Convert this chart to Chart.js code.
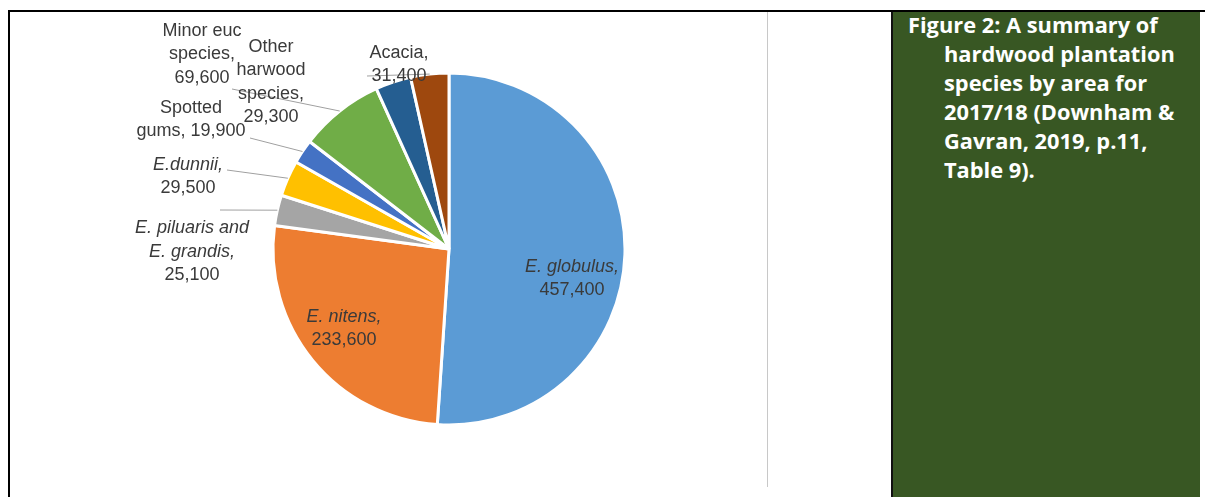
<!DOCTYPE html>
<html lang="en">
<head>
  <meta charset="UTF-8">
  <title>Hardwood plantation species by area 2017/18</title>
  <script src="https://cdn.jsdelivr.net/npm/chart.js"></script>
  <style>
    body {
      margin: 0;
      width: 1205px;
      height: 497px;
      background: #fff;
      position: relative;
      overflow: hidden;
      font-family: 'Liberation Sans', Arial, sans-serif;
    }
    .rule-top {
      position: absolute; left: 8px; top: 10px; width: 1197px; height: 2px; background: #000;
    }
    .rule-left {
      position: absolute; left: 8px; top: 10px; width: 2px; height: 487px; background: #000;
    }
    .chart-edge {
      position: absolute; left: 767px; top: 12px; width: 1px; height: 475px; background: #c8c8c8;
    }
    #chart-box {
      position: absolute; left: 10px; top: 12px; width: 878px; height: 474px;
    }
    .caption {
      position: absolute; left: 891px; top: 12px; width: 309px; height: 485px;
      background: #385723;
      border-left: 2px solid #111;
      box-sizing: border-box;
    }
    .caption p {
      position: absolute; left: 0; top: -2px; margin: 0;
      padding-left: 51px;
      text-indent: -36px;
      color: #fff;
      font-family: 'Open Sans', sans-serif;
      font-weight: 700;
      font-size: 21.8px;
      line-height: 29.1px;
      white-space: nowrap;
    }
  </style>
</head>
<body>
  <div class="rule-top"></div>
  <div class="rule-left"></div>
  <div class="chart-edge"></div>
  <div id="chart-box"><canvas id="speciesChart"></canvas></div>
  <div class="caption">
    <p>Figure 2: A summary of<br>hardwood plantation<br>species by area for<br>2017/18 (Downham &amp;<br>Gavran, 2019, p.11,<br>Table 9).</p>
  </div>

  <script>
    // plantation area (ha) by species, clockwise from 12 o'clock
    const categories = ['E. globulus', 'E. nitens', 'E. piluaris and E. grandis', 'E.dunnii',
                        'Spotted gums', 'Minor euc species', 'Other harwood species', 'Acacia'];
    const areas = [457400, 233600, 25100, 29500, 19900, 69600, 29300, 31400];
    const sliceColours = ['#5b9bd5', '#ed7d31', '#a5a5a5', '#ffc000', '#4472c4', '#70ad47', '#255e91', '#9e480e'];

    // label text per slice, {v} is swapped for the formatted area
    const labelLines = [
      ['E. globulus,', '{v}'],
      ['E. nitens,', '{v}'],
      ['E. piluaris and', 'E. grandis,', '{v}'],
      ['E.dunnii,', '{v}'],
      ['Spotted', 'gums, {v}'],
      ['Minor euc', 'species,', '{v}'],
      ['Other', 'harwood', 'species,', '{v}'],
      ['Acacia,', '{v}']
    ];
    const italicName = [true, true, true, true, false, false, false, false];

    // label block centre (first line) relative to the pie centre, px
    const labelAt = [[123, 18], [-105, 68], [-257, -21], [-261, -84],
                     [-258, -141], [-247, -218], [-178, -202], [-50, -196]];
    // where each leader line leaves its label (null = no leader)
    const leaderFrom = [null, null, [-229, -39], [-222, -79],
                        [-199, -111], [-217, -160], null, [-82, -173]];
    const lineGap = 23.5;

    const fmt = n => n.toLocaleString('en-US');

    const sliceLabels = {
      id: 'sliceLabels',
      afterDatasetsDraw(chart) {
        const ctx = chart.ctx;
        const arcs = chart.getDatasetMeta(0).data;
        ctx.save();

        // leader lines from label to the middle of the slice edge
        ctx.strokeStyle = '#a0a0a0';
        ctx.lineWidth = 1;
        arcs.forEach((arc, i) => {
          const lead = leaderFrom[i];
          if (!lead) return;
          const mid = (arc.startAngle + arc.endAngle) / 2;
          ctx.beginPath();
          ctx.moveTo(arc.x + lead[0], arc.y + lead[1]);
          ctx.lineTo(arc.x + Math.cos(mid) * arc.outerRadius, arc.y + Math.sin(mid) * arc.outerRadius);
          ctx.stroke();
        });

        ctx.fillStyle = '#3a3a3a';
        ctx.textAlign = 'center';
        ctx.textBaseline = 'middle';
        arcs.forEach((arc, i) => {
          const [dx, dy] = labelAt[i];
          labelLines[i].forEach((line, k) => {
            const isValue = line.includes('{v}');
            const style = (italicName[i] && !isValue) ? 'italic ' : '';
            ctx.font = style + '18px "Liberation Sans", Arial, sans-serif';
            ctx.fillText(line.replace('{v}', fmt(areas[i])), arc.x + dx, arc.y + dy + k * lineGap);
          });
        });
        ctx.restore();
      }
    };

    const ctx = document.getElementById('speciesChart').getContext('2d');
    new Chart(ctx, {
      type: 'pie',
      data: {
        labels: categories,
        datasets: [{
          data: areas,
          backgroundColor: sliceColours,
          borderColor: '#fff',
          borderWidth: 3,
          hoverOffset: 0
        }]
      },
      options: {
        responsive: true,
        maintainAspectRatio: false,
        animation: false,
        radius: 176,
        layout: { padding: 0 },
        plugins: {
          legend: { display: false },
          tooltip: { enabled: false }
        }
      },
      plugins: [sliceLabels]
    });
  </script>
</body>
</html>
